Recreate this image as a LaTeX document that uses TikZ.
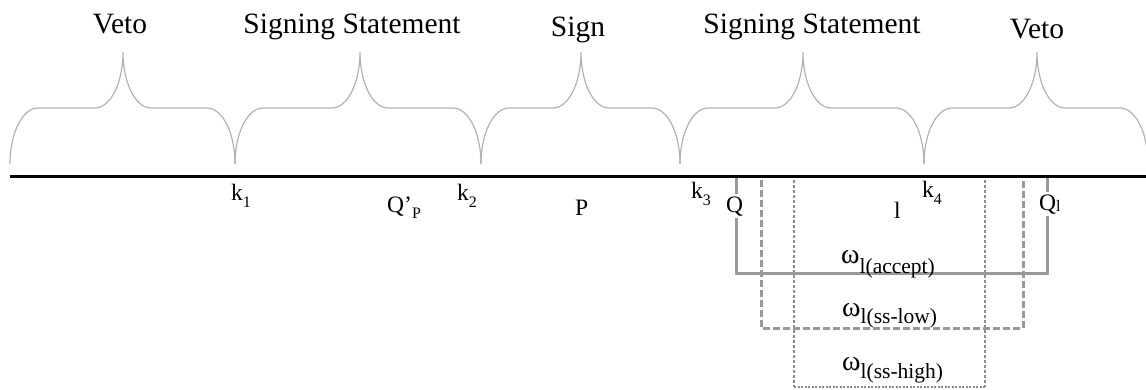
\documentclass[tikz,border=0pt]{standalone}
\usepackage{fontspec}
\setmainfont{Liberation Serif}
\newcommand{\bracepath}[3]{% left, peak, right
  (#1,164) .. controls (#1,133) and (#1+12.5,108) .. (#1+28,108)
  -- (#2-28,108) .. controls (#2-12.5,108) and (#2,83) .. (#2,52)
  .. controls (#2,83) and (#2+12.5,108) .. (#2+28,108)
  -- (#3-28,108) .. controls (#3-12.5,108) and (#3,133) .. (#3,164)}
\begin{document}
\begin{tikzpicture}[x=1pt,y=-1pt,
  bracestyle/.style={draw=black!30, line width=1.2pt},
  toplabel/.style={anchor=base, inner sep=0pt, font=\fontsize{29.5}{32}\selectfont},
  axlabel/.style={anchor=base west, inner sep=0pt, font=\fontsize{23.5}{26}\selectfont},
  qlabel/.style={anchor=base west, inner xsep=0pt, inner ysep=2pt, fill=white, font=\fontsize{23.5}{26}\selectfont},
  omlabel/.style={anchor=base west, inner sep=0pt},
  solidframe/.style={draw=black!40, line width=3pt},
  dashframe/.style={draw=black!40, line width=3pt, dash pattern=on 7pt off 3pt},
  dotframe/.style={draw=black!45, line width=2.8pt, dash pattern=on 3pt off 2pt},
  dotbase/.style={draw=black!45, line width=1.4pt, dash pattern=on 2pt off 1.5pt}]
\useasboundingbox (0,0) rectangle (1146,389);
\newcommand{\sbs}[1]{{\fontsize{16}{18}\selectfont #1}}
\newcommand{\omlab}[2]{{\fontsize{28}{30}\selectfont ω}\raisebox{#1}{\fontsize{21.5}{24}\selectfont #2}}
% braces
\draw[bracestyle] \bracepath{10}{123}{235};
\draw[bracestyle] \bracepath{235}{360}{481};
\draw[bracestyle] \bracepath{481}{581}{680};
\draw[bracestyle] \bracepath{680}{803}{924};
\draw[bracestyle] \bracepath{924}{1037}{1148};
% top labels
\node[toplabel] (veto1) at (120,33) {Veto};
\node[toplabel] (ss1) at (352,33) {Signing Statement};
\node[toplabel] (sign) at (578,36) {Sign};
\node[toplabel] (ss2) at (812,33) {Signing Statement};
\node[toplabel] (veto2) at (1037,38) {Veto};
% coordinates
\coordinate (axL) at (10,176);
\coordinate (axR) at (1146,176);
\coordinate (sA) at (736,176);
\coordinate (sB) at (736,273);
\coordinate (sC) at (1047,273);
\coordinate (sD) at (1047,176);
\coordinate (dA) at (761,180);
\coordinate (dB) at (761,328);
\coordinate (dC) at (1023,328);
\coordinate (dD) at (1023,180);
\coordinate (oA) at (794,180);
\coordinate (oB) at (794,387);
\coordinate (oC) at (985,387);
\coordinate (oD) at (985,180);
% frames
\draw[dotframe] (oA) -- (oB);
\draw[dotframe] (oD) -- (oC);
\draw[dotbase] (oB) -- (oC);
\draw[dashframe] (dA) -- (dB) -- (dC) -- (dD);
\draw[solidframe] (sA) -- (sB) -- (sC) -- (sD);
% axis
\draw[line width=3pt, black] (axL) -- (axR);
% axis labels
\node[axlabel] (k1) at (231,200) {k\raisebox{-7pt}{\sbs{1}}};
\node[axlabel] (qp) at (387,212) {Q’\raisebox{-6pt}{\sbs{P}}};
\node[axlabel] (k2) at (457,200) {k\raisebox{-7pt}{\sbs{2}}};
\node[axlabel] (p) at (575,215) {P};
\node[axlabel] (k3) at (691,198) {k\raisebox{-7pt}{\sbs{3}}};
\node[qlabel] (q) at (726,212) {Q};
\node[axlabel] (l) at (894,218) {l};
\node[axlabel] (k4) at (922,197) {k\raisebox{-7pt}{\sbs{4}}};
\node[qlabel] (ql) at (1039,210) {Q\raisebox{-1pt}{\sbs{l}}};
% omega labels
\node[omlabel] (wacc) at (841,263) {\omlab{-10pt}{l(accept)}};
\node[omlabel] (wlow) at (842,316) {\omlab{-7pt}{l(ss-low)}};
\node[omlabel] (whigh) at (842,370) {\omlab{-8pt}{l(ss-high)}};
\end{tikzpicture}
\end{document}
